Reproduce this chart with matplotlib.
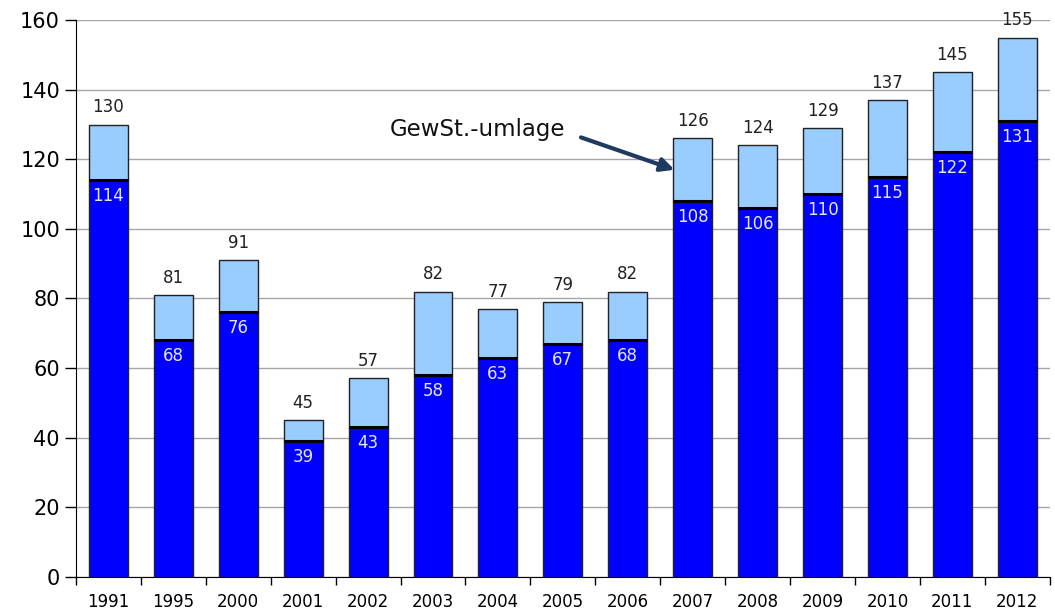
import matplotlib.pyplot as plt
import numpy as np

# Daten
years = ["1991", "1995", "2000", "2001", "2002", "2003", "2004", "2005",
         "2006", "2007", "2008", "2009", "2010", "2011", "2012"]
base = [114, 68, 76, 39, 43, 58, 63, 67, 68, 108, 106, 110, 115, 122, 131]
total = [130, 81, 91, 45, 57, 82, 77, 79, 82, 126, 124, 129, 137, 145, 155]

umlage = [t - b for t, b in zip(total, base)]
x = np.arange(len(years))
width = 0.6

fig = plt.figure(figsize=(10.55, 6.11), dpi=100)
ax = fig.add_axes([0.072, 0.056, 0.923, 0.911])

# Balken
ax.bar(x, base, width, color="#0000FF", edgecolor="#222222", linewidth=1, zorder=3)
ax.bar(x, umlage, width, bottom=base, color="#99CCFF", edgecolor="#222222",
       linewidth=1, zorder=3)
ax.hlines(base, x - width / 2, x + width / 2, color="black", linewidth=2.2, zorder=4)

# Beschriftungen
for xi, b, t in zip(x, base, total):
    ax.annotate(str(t), (xi, t), xytext=(0, 6), textcoords="offset points",
                ha="center", va="bottom", fontsize=12, color="#222222")
    ax.annotate(str(b), (xi, b), xytext=(0, -5), textcoords="offset points",
                ha="center", va="top", fontsize=12, color="#E6E6FF", zorder=5)

# Pfeil
ax.text(5.68, 128.5, "GewSt.-umlage", fontsize=16.5, ha="center", va="center",
        color="#111111")
ax.annotate("", xy=(8.72, 117), xytext=(7.28, 126.3),
            arrowprops=dict(arrowstyle="-|>,head_length=0.8,head_width=0.4",
                            color="#1F3A5F", lw=3, shrinkA=0, shrinkB=0))

ax.set_xlim(-0.5, len(years) - 0.5)
ax.set_ylim(0, 160)
ax.set_yticks(np.arange(0, 161, 20))
ax.tick_params(axis="y", labelsize=15, length=8, width=1, direction="out")

ax.set_xticks(x)
ax.set_xticklabels(years, fontsize=12)
ax.tick_params(axis="x", length=0, pad=12)
ax.set_xticks(np.arange(-0.5, len(years), 1), minor=True)
ax.tick_params(axis="x", which="minor", length=6, width=1)

ax.grid(axis="y", color="#A6A6A6", linewidth=1, zorder=0)
ax.set_axisbelow(True)
for s in ["top", "right"]:
    ax.spines[s].set_visible(False)

fig.savefig("out.png", dpi=100)
